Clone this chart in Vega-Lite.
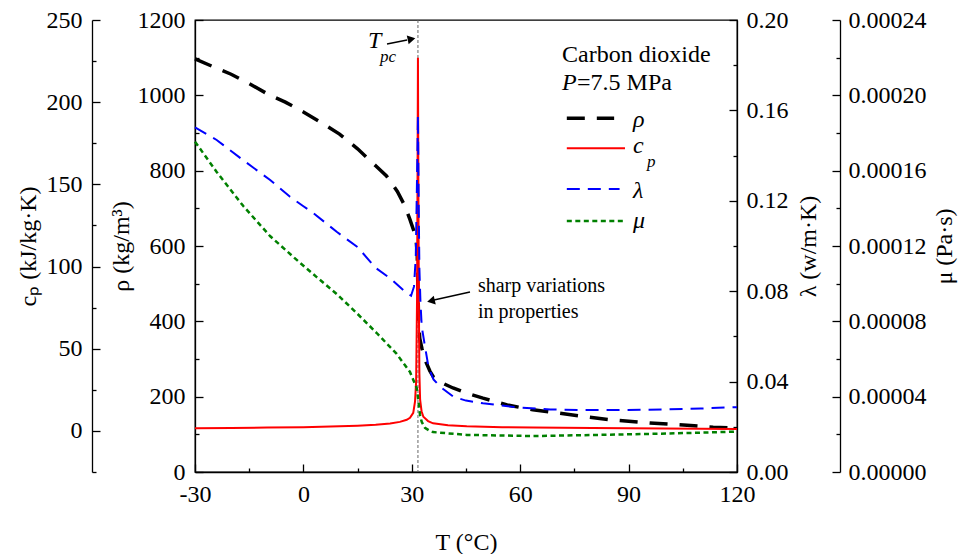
{
 "$schema": "https://vega.github.io/schema/vega-lite/v6.json",
 "width": 542, "height": 452,
 "autosize": {"type": "none"},
 "padding": {"left": 195, "top": 20, "right": 227, "bottom": 82},
 "background": "white",
 "config": {
  "font": "Liberation Serif",
  "view": {"stroke": "black", "strokeWidth": 1.3},
  "axis": {"grid": false, "domainColor": "black", "domainWidth": 1.3, "tickColor": "black", "tickWidth": 1.3,
   "labelFont": "Liberation Serif", "labelFontSize": 24, "labelColor": "black", "labelOverlap": false, "labelFlush": false,
   "titleFont": "Liberation Serif", "titleFontSize": 24, "titleFontWeight": "normal", "titleColor": "black"}
 },
 "datasets": {
  "rho": [{"T":-30,"v":1097},{"T":-25,"v":1076},{"T":-20,"v":1056},{"T":-15,"v":1031},{"T":-10,"v":1004},{"T":-5,"v":982},{"T":0,"v":956},{"T":5,"v":927},{"T":10,"v":897},{"T":15,"v":858},{"T":20,"v":813},{"T":23,"v":786},{"T":26,"v":745},{"T":28,"v":708},{"T":29.5,"v":670},{"T":30.5,"v":642},{"T":31.2,"v":615},{"T":31.5,"v":580},{"T":31.7,"v":480},{"T":31.9,"v":400},{"T":32.2,"v":355},{"T":32.8,"v":328},{"T":34,"v":290},{"T":35,"v":268},{"T":36,"v":252},{"T":38.5,"v":236},{"T":41.4,"v":223},{"T":45,"v":210},{"T":49.7,"v":196},{"T":56.4,"v":178},{"T":63.5,"v":165},{"T":70.2,"v":157},{"T":78.5,"v":146},{"T":85.7,"v":138},{"T":95.9,"v":130},{"T":106.2,"v":124},{"T":113.4,"v":119},{"T":120,"v":116}],
  "cp": [{"T":-30,"v":1.6},{"T":-20,"v":1.8},{"T":-10,"v":2.0},{"T":0,"v":2.3},{"T":10,"v":2.8},{"T":15,"v":3.2},{"T":20,"v":3.7},{"T":24,"v":4.5},{"T":26.7,"v":5.5},{"T":28.6,"v":6.8},{"T":29.5,"v":8},{"T":30.4,"v":11},{"T":30.9,"v":18},{"T":31.2,"v":30},{"T":31.45,"v":80},{"T":31.6,"v":160},{"T":31.7,"v":227},{"T":31.8,"v":160},{"T":31.95,"v":80},{"T":32.1,"v":35},{"T":32.3,"v":19},{"T":32.7,"v":12},{"T":33.2,"v":8.6},{"T":34.5,"v":6},{"T":35.9,"v":4.6},{"T":40,"v":3.5},{"T":45.2,"v":2.8},{"T":55,"v":2.3},{"T":63.6,"v":2.0},{"T":80,"v":1.7},{"T":100,"v":1.4},{"T":120,"v":1.1}],
  "lam": [{"T":-30,"v":0.1525},{"T":-24,"v":0.1469},{"T":-16.7,"v":0.138},{"T":-9.2,"v":0.1292},{"T":-3.7,"v":0.1218},{"T":0,"v":0.1176},{"T":2.7,"v":0.1146},{"T":9.3,"v":0.1062},{"T":15,"v":0.0995},{"T":20,"v":0.0903},{"T":24,"v":0.0857},{"T":28.6,"v":0.0792},{"T":29.8,"v":0.078},{"T":30.6,"v":0.082},{"T":31.1,"v":0.095},{"T":31.4,"v":0.125},{"T":31.7,"v":0.158},{"T":31.9,"v":0.12},{"T":32.1,"v":0.09},{"T":32.4,"v":0.075},{"T":32.75,"v":0.0643},{"T":33.5,"v":0.057},{"T":34.6,"v":0.0466},{"T":36,"v":0.041},{"T":37.8,"v":0.0378},{"T":41.5,"v":0.0333},{"T":45,"v":0.0316},{"T":49.7,"v":0.0304},{"T":59,"v":0.0286},{"T":68.3,"v":0.0277},{"T":77.4,"v":0.0274},{"T":86.8,"v":0.0274},{"T":100.6,"v":0.0277},{"T":110,"v":0.0281},{"T":120,"v":0.0287}],
  "mu": [{"T":-30,"v":0.0001754},{"T":-24,"v":0.0001593},{"T":-16.63,"v":0.0001412},{"T":-9.24,"v":0.0001253},{"T":-1.85,"v":0.0001126},{"T":3.68,"v":0.0001035},{"T":9.22,"v":0.0000945},{"T":14.75,"v":0.0000844},{"T":20.29,"v":0.0000738},{"T":25.82,"v":0.0000627},{"T":29.5,"v":0.0000531},{"T":31.36,"v":0.0000446},{"T":31.8,"v":0.0000382},{"T":32.27,"v":0.0000303},{"T":32.74,"v":0.0000266},{"T":33.65,"v":0.0000234},{"T":35.04,"v":0.0000218},{"T":35.87,"v":0.0000212},{"T":45.19,"v":0.0000197},{"T":63.54,"v":0.0000191},{"T":82.08,"v":0.0000197},{"T":100.54,"v":0.0000204},{"T":118.9,"v":0.0000214},{"T":120,"v":0.0000215}]
 },
 "encoding": {
  "x": {"field": "T", "type": "quantitative",
   "scale": {"domain": [-30, 120], "nice": false, "zero": false},
   "axis": {"title": "T (°C)", "values": [-30,-15,0,15,30,45,60,75,90,105,120],
    "labelExpr": "datum.value % 30 === 0 ? '' + datum.value : ''",
    "tickSize": {"condition": {"test": "datum.value % 30 === 0", "value": -8}, "value": -4},
    "labelPadding": 18, "titlePadding": 20}}
 },
 "layer": [
  {"data": {"values": [{"T": 31.7}]},
   "mark": {"type": "rule", "color": "#666666", "strokeWidth": 1, "strokeDash": [3, 2]},
   "encoding": {}},
  {"data": {"name": "rho"},
   "mark": {"type": "line", "color": "black", "strokeWidth": 3.5, "strokeDash": [18, 12]},
   "encoding": {"y": {"field": "v", "type": "quantitative", "scale": {"domain": [0, 1200], "nice": false, "zero": false},
    "axis": {"orient": "left", "offset": 0, "title": "ρ (kg/m³)", "values": [0,100,200,300,400,500,600,700,800,900,1000,1100,1200],
     "labelExpr": "datum.value % 200 === 0 ? '' + datum.value : ''",
     "tickSize": {"condition": {"test": "datum.value % 200 === 0", "value": -8}, "value": -4},
     "labelPadding": 18, "titlePadding": 4}}}},
  {"data": {"name": "cp"},
   "mark": {"type": "line", "color": "#ff0000", "strokeWidth": 2},
   "encoding": {"y": {"field": "v", "type": "quantitative", "scale": {"domain": [-25, 250], "nice": false, "zero": false},
    "axis": {"orient": "left", "offset": 103, "title": "cₚ (kJ/kg·K)", "values": [-25,0,25,50,75,100,125,150,175,200,225,250],
     "labelExpr": "datum.value % 50 === 0 ? '' + datum.value : ''",
     "tickSize": {"condition": {"test": "datum.value % 50 === 0", "value": -8}, "value": -4},
     "labelPadding": 18, "titlePadding": 6}}}},
  {"data": {"name": "lam"},
   "mark": {"type": "line", "color": "#0000ff", "strokeWidth": 2, "strokeDash": [13, 8]},
   "encoding": {"y": {"field": "v", "type": "quantitative", "scale": {"domain": [0, 0.2], "nice": false, "zero": false},
    "axis": {"orient": "right", "offset": 0, "title": "λ (w/m·K)", "titleAngle": 270, "titleBaseline": "top", "values": [0,0.02,0.04,0.06,0.08,0.1,0.12,0.14,0.16,0.18,0.2],
     "labelExpr": "round(datum.value*50) % 2 === 0 ? format(datum.value, '.2f') : ''",
     "tickSize": {"condition": {"test": "round(datum.value*50) % 2 === 0", "value": -8}, "value": -4},
     "labelPadding": 17, "titlePadding": 8}}}},
  {"data": {"name": "mu"},
   "mark": {"type": "line", "color": "#008000", "strokeWidth": 2.5, "strokeDash": [5, 3.5]},
   "encoding": {"y": {"field": "v", "type": "quantitative", "scale": {"domain": [0, 0.00024], "nice": false, "zero": false},
    "axis": {"orient": "right", "offset": 103, "title": "μ (Pa·s)", "titleAngle": 270, "titleBaseline": "top", "values": [0,0.00002,0.00004,0.00006,0.00008,0.0001,0.00012,0.00014,0.00016,0.00018,0.0002,0.00022,0.00024],
     "labelExpr": "round(datum.value*50000) % 2 === 0 ? format(datum.value, '.5f') : ''",
     "tickSize": {"condition": {"test": "round(datum.value*50000) % 2 === 0", "value": -8}, "value": -4},
     "labelPadding": 16, "titlePadding": 6}}}},
  {"data": {"values": [{"T": 72.9, "T2": 86, "y": 939}]},
   "mark": {"type": "rule", "color": "black", "strokeWidth": 3.5, "strokeDash": [18, 12]},
   "encoding": {"x2": {"field": "T2"}, "y": {"field": "y", "type": "quantitative", "scale": {"domain": [0, 1200]}, "axis": null}}},
  {"data": {"values": [{"T": 72.9, "T2": 89, "y": 859.4}]},
   "mark": {"type": "rule", "color": "#ff0000", "strokeWidth": 2},
   "encoding": {"x2": {"field": "T2"}, "y": {"field": "y", "type": "quantitative", "scale": {"domain": [0, 1200]}, "axis": null}}},
  {"data": {"values": [{"T": 72.9, "T2": 87.5, "y": 751.3}]},
   "mark": {"type": "rule", "color": "#0000ff", "strokeWidth": 2, "strokeDash": [13, 8]},
   "encoding": {"x2": {"field": "T2"}, "y": {"field": "y", "type": "quantitative", "scale": {"domain": [0, 1200]}, "axis": null}}},
  {"data": {"values": [{"T": 72.9, "T2": 89, "y": 666.4}]},
   "mark": {"type": "rule", "color": "#008000", "strokeWidth": 2.5, "strokeDash": [5, 3.5]},
   "encoding": {"x2": {"field": "T2"}, "y": {"field": "y", "type": "quantitative", "scale": {"domain": [0, 1200]}, "axis": null}}},
  {"data": {"values": [{"T": 23.14, "T2": 28.7, "y": 1136.3, "y2": 1146.9}, {"T": 46.1, "T2": 36.14, "y": 477.9, "y2": 456.6}]},
   "mark": {"type": "rule", "color": "black", "strokeWidth": 1.5},
   "encoding": {"x2": {"field": "T2"}, "y": {"field": "y", "type": "quantitative", "scale": {"domain": [0, 1200]}, "axis": null}, "y2": {"field": "y2"}}},
  {"data": {"values": [{"T": 29.92, "y": 1149.6}]},
   "mark": {"type": "point", "shape": "triangle-right", "filled": true, "color": "black", "opacity": 1, "size": 80, "angle": -12},
   "encoding": {"y": {"field": "y", "type": "quantitative", "scale": {"domain": [0, 1200]}, "axis": null}}},
  {"data": {"values": [{"T": 35.31, "y": 454}]},
   "mark": {"type": "point", "shape": "triangle-left", "filled": true, "color": "black", "opacity": 1, "size": 80, "angle": -13},
   "encoding": {"y": {"field": "y", "type": "quantitative", "scale": {"domain": [0, 1200]}, "axis": null}}},
  {"data": {"values": [{"T": 71.57, "y": 1089.3, "text": "Carbon dioxide"}, {"T": 75.72, "y": 1014.2, "text": "=7.5 MPa"}]},
   "mark": {"type": "text", "align": "left", "baseline": "alphabetic", "font": "Liberation Serif", "fontSize": 24, "color": "black"},
   "encoding": {"y": {"field": "y", "type": "quantitative", "scale": {"domain": [0, 1200]}, "axis": null}, "text": {"field": "text"}}},
  {"data": {"values": [{"T": 71.57, "y": 1014.2, "text": "P"}, {"T": 91.22, "y": 916, "text": "ρ"}, {"T": 91.22, "y": 847.7, "text": "c"}, {"T": 91.22, "y": 727.4, "text": "λ"}, {"T": 91.22, "y": 647.8, "text": "μ"}, {"T": 17.9, "y": 1125.7, "text": "T"}]},
   "mark": {"type": "text", "align": "left", "baseline": "alphabetic", "font": "Liberation Serif", "fontSize": 24, "fontStyle": "italic", "color": "black"},
   "encoding": {"y": {"field": "y", "type": "quantitative", "scale": {"domain": [0, 1200]}, "axis": null}, "text": {"field": "text"}}},
  {"data": {"values": [{"T": 21.2, "y": 1088.5, "text": "pc"}, {"T": 95.09, "y": 810.6, "text": "p"}]},
   "mark": {"type": "text", "align": "left", "baseline": "alphabetic", "font": "Liberation Serif", "fontSize": 17, "fontStyle": "italic", "color": "black"},
   "encoding": {"y": {"field": "y", "type": "quantitative", "scale": {"domain": [0, 1200]}, "axis": null}, "text": {"field": "text"}}},
  {"data": {"values": [{"T": 48.3, "y": 477.9, "text": "sharp variations"}, {"T": 48.3, "y": 408.9, "text": "in properties"}]},
   "mark": {"type": "text", "align": "left", "baseline": "alphabetic", "font": "Liberation Serif", "fontSize": 20, "color": "black"},
   "encoding": {"y": {"field": "y", "type": "quantitative", "scale": {"domain": [0, 1200]}, "axis": null}, "text": {"field": "text"}}}
 ],
 "resolve": {"scale": {"y": "independent"}}
}
